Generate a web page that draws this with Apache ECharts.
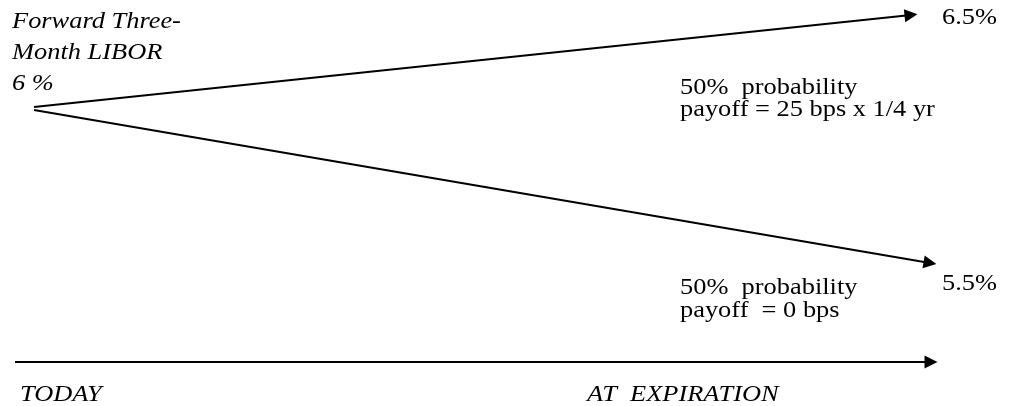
<!DOCTYPE html>
<html>
<head>
<meta charset="utf-8">
<script src="https://cdn.jsdelivr.net/npm/echarts@6/dist/echarts.min.js"></script>
<style>
html,body{margin:0;padding:0;background:#fff;}
#c{width:1011px;height:406px;}
</style>
</head>
<body>
<div id="c"></div>
<script>
// ---- data ----
const times = [0, 1];                       // 0 = today, 1 = at expiration
const timeLabels = ['TODAY', 'AT  EXPIRATION'];
const startLabel = ['Forward Three-', 'Month LIBOR', '6 %'];
const startRate = 6.0;
const branchRates = [6.5, 5.5];             // up, down
const branchProb = [50, 50];                // %
const branchPayoff = ['payoff = 25 bps x 1/4 yr', 'payoff  = 0 bps'];

// ---- chart ----
const chart = echarts.init(document.getElementById('c'), null, {renderer: 'canvas'});
const SX = 1.1;

function txt(text, x, y, italic) {
  return {type: 'text', x: x, y: y, scaleX: SX, silent: true,
    style: {text: text, fontFamily: 'Liberation Serif', fontSize: 24,
      fontStyle: italic ? 'italic' : 'normal', fill: '#000', verticalAlign: 'top'}};
}

const hiddenAxis = (i, min, max) => ({gridIndex: i, type: 'value', min: min, max: max, show: false});

const arrowStyle = {
  type: 'lines', coordinateSystem: 'cartesian2d', clip: false,
  symbol: ['none', 'triangle'], symbolSize: 13,
  lineStyle: {color: '#000', width: 2, opacity: 1, curveness: 0},
  itemStyle: {color: '#000'},
  silent: true, animation: false
};

const option = {
  backgroundColor: '#fff',
  animation: false,
  grid: [
    {left: 34, top: 15, width: 877, height: 92},    // up branch
    {left: 34, top: 110, width: 896, height: 153},  // down branch
    {left: 15, top: 352, width: 916, height: 10}    // time line
  ],
  xAxis: [hiddenAxis(0, times[0], times[1]), hiddenAxis(1, times[0], times[1]), hiddenAxis(2, times[0], times[1])],
  yAxis: [hiddenAxis(0, startRate, branchRates[0]), hiddenAxis(1, branchRates[1], startRate), hiddenAxis(2, 0, 1)],
  series: [
    Object.assign({}, arrowStyle, {xAxisIndex: 0, yAxisIndex: 0,
      data: [{coords: [[times[0], startRate], [times[1], branchRates[0]]]}]}),
    Object.assign({}, arrowStyle, {xAxisIndex: 1, yAxisIndex: 1,
      data: [{coords: [[times[0], startRate], [times[1], branchRates[1]]]}]}),
    Object.assign({}, arrowStyle, {xAxisIndex: 2, yAxisIndex: 2,
      data: [{coords: [[times[0], 0], [times[1], 0]]}]})
  ],
  graphic: [
    txt(startLabel[0], 12, 10, true),
    txt(startLabel[1], 12, 41, true),
    txt(startLabel[2], 12, 72, true),
    txt(branchRates[0].toFixed(1) + '%', 942, 6),
    txt(branchProb[0] + '%  probability', 680, 76),
    txt(branchPayoff[0], 680, 98),
    txt(branchRates[1].toFixed(1) + '%', 942, 272),
    txt(branchProb[1] + '%  probability', 680, 276),
    txt(branchPayoff[1], 680, 299),
    txt(timeLabels[0], 20, 383, true),
    txt(timeLabels[1], 587, 383, true)
  ]
};
chart.setOption(option);
</script>
</body>
</html>
